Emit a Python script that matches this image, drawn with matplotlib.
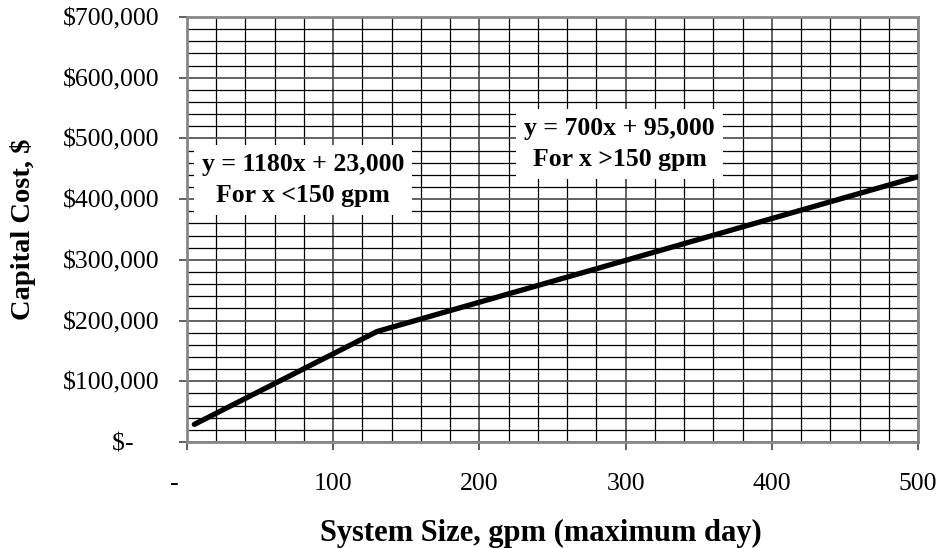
import matplotlib
matplotlib.use('Agg')
import matplotlib.pyplot as plt
from matplotlib.ticker import MultipleLocator

# data
size_gpm = [5, 130, 500]
capital_cost = [29000, 182000, 437000]

x_ticks = [0, 100, 200, 300, 400, 500]
x_labels = ['-    ', '100', '200', '300', '400', '500']
y_ticks = [0, 100000, 200000, 300000, 400000, 500000, 600000, 700000]
y_labels = ['$-    ', '$100,000', '$200,000', '$300,000', '$400,000',
            '$500,000', '$600,000', '$700,000']

eq_low = 'y = 1180x + 23,000\nFor x <150 gpm'
eq_high = 'y = 700x + 95,000\nFor x >150 gpm'

plt.rcParams['font.family'] = ['Liberation Serif', 'DejaVu Serif']

fig = plt.figure(figsize=(9.4, 5.48), dpi=100)
ax = fig.add_axes([187 / 940, 1 - 442 / 548, 731 / 940, 425 / 548])

ax.plot(size_gpm, capital_cost, color='black', lw=3.8, solid_capstyle='round', zorder=3)

ax.set_xlim(0, 500)
ax.set_ylim(0, 700000)
ax.set_xticks(x_ticks)
ax.set_xticklabels(x_labels)
ax.set_yticks(y_ticks)
ax.set_yticklabels(y_labels)
ax.xaxis.set_minor_locator(MultipleLocator(20))
ax.yaxis.set_minor_locator(MultipleLocator(20000))

ax.grid(which='minor', color='black', lw=0.9)
ax.grid(which='major', color='#555555', lw=1.3)
ax.set_axisbelow(True)

ax.tick_params(axis='both', which='major', length=6, width=1.2, color='#444444',
               labelsize=18.5, direction='out')
ax.tick_params(axis='x', which='major', pad=16)
ax.tick_params(axis='y', which='major', pad=14)
ax.tick_params(axis='both', which='minor', length=0)

for s in ax.spines.values():
    s.set_color('#888888')
    s.set_linewidth(2)

ax.set_xlabel('System Size, gpm (maximum day)', fontsize=22, fontweight='bold')
ax.set_ylabel('Capital Cost, $', fontsize=20.5, fontweight='bold')
ax.xaxis.set_label_coords(0.484, -0.18)
ax.yaxis.set_label_coords(-0.206, 0.5)

box = dict(facecolor='white', edgecolor='none', pad=6)
ax.text(79.3, 431500, eq_low, ha='center', va='center', multialignment='center',
        fontsize=18.5, fontweight='bold', linespacing=1.4, bbox=box, zorder=4)
ax.text(296, 490800, eq_high, ha='center', va='center', multialignment='center',
        fontsize=18.5, fontweight='bold', linespacing=1.4, bbox=box, zorder=4)

fig.savefig('out.png', dpi=100)
